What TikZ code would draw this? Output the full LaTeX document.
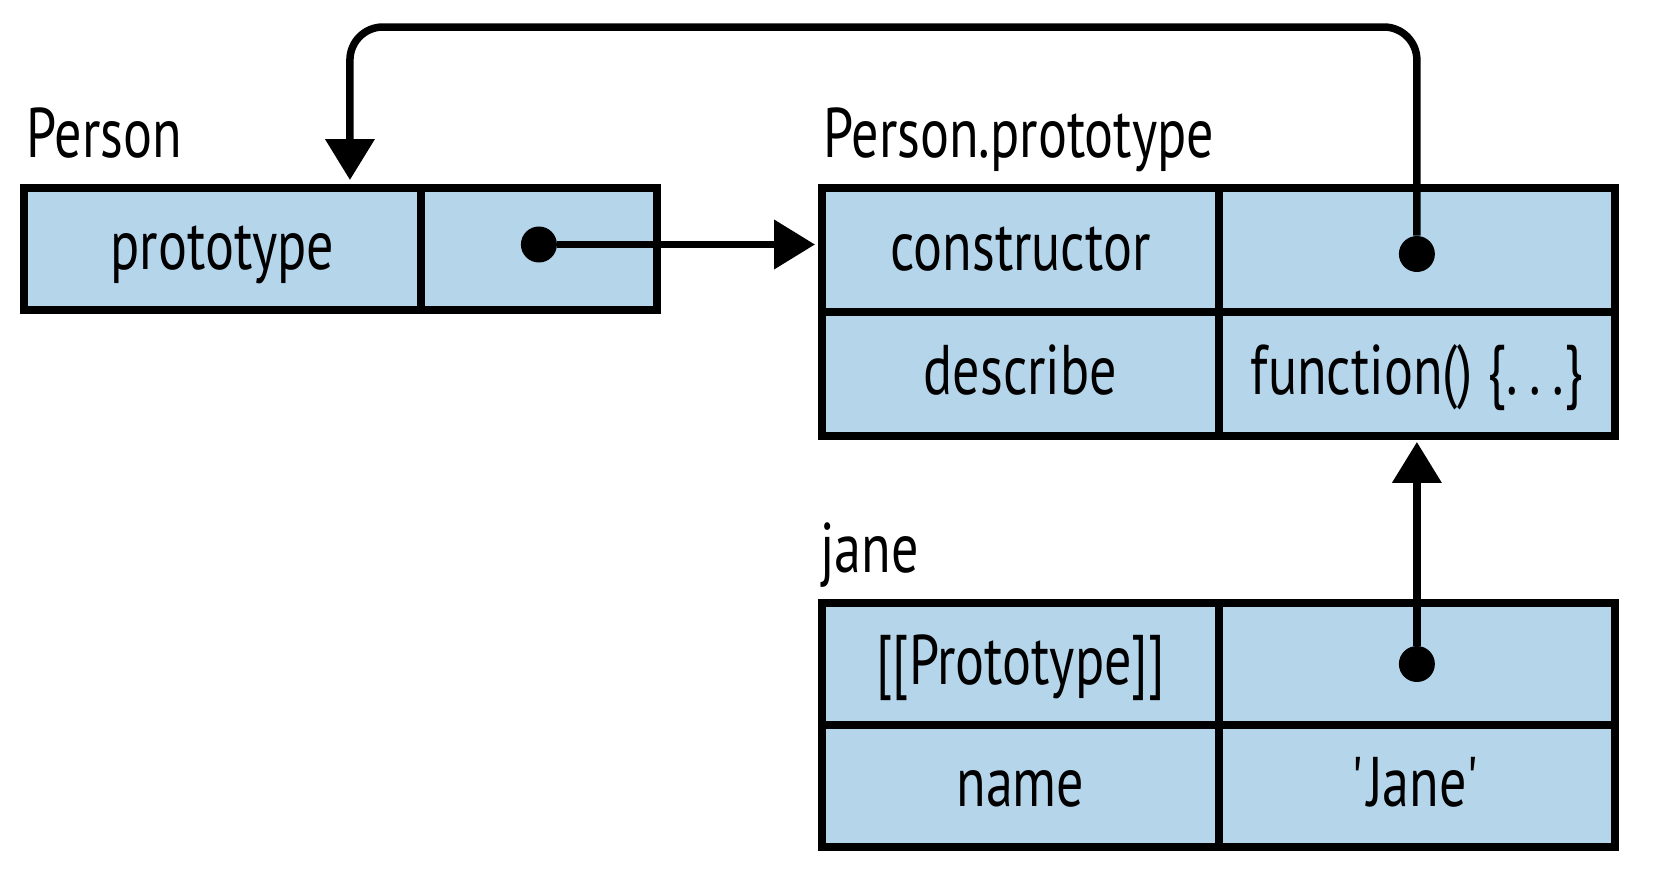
\documentclass[tikz,border=0pt]{standalone}
\usepackage{fontspec}
\setmainfont{PT Sans}[FakeStretch=0.77]
\usetikzlibrary{arrows.meta, positioning}
\definecolor{CellFill}{HTML}{B5D5EB}

\begin{document}
\begin{tikzpicture}[x=0.02cm, y=-0.02cm,
  every node/.style={font=\fontsize{40}{48}\selectfont},
  cell/.style={draw=black, fill=CellFill, line width=0.16cm,
               inner sep=0pt, outer sep=0pt, minimum height=2.44cm,
               text height=32pt, text depth=9pt},
  keycell/.style={cell, minimum width=7.94cm},
  valcell/.style={cell, minimum width=7.92cm},
  lbl/.style={anchor=base west, inner sep=0pt},
  dot/.style={circle, fill=black, minimum size=0.72cm, inner sep=0pt},
  ptr/.style={-{Triangle[length=0.82cm, width=0.96cm]}, line width=0.15cm}
]
\useasboundingbox (0,0) rectangle (1666,870);

% Person
\node[lbl] (personLbl) at (26,157) {Person};
\node[keycell, anchor=north west] (perKey) at (24,188) {prototype};
\node[valcell, minimum width=4.72cm, right=0pt of perKey] (perVal) {};

% Person.prototype
\node[lbl] (protoLbl) at (823,157) {Person.prototype};
\node[keycell, anchor=north west, minimum height=2.48cm] (ctorKey) at (822,188) {constructor};
\node[valcell, minimum height=2.48cm, right=0pt of ctorKey] (ctorVal) {};
\node[keycell, minimum height=2.48cm, below=0pt of ctorKey] (descKey) {describe};
\node[valcell, minimum height=2.48cm, right=0pt of descKey] (descVal) {function() \{.\,.\,.\}};

% jane
\node[lbl] (janeLbl) at (820,572) {jane};
\node[keycell, anchor=north west] (protoKey) at (822,603) {[[Prototype]]};
\node[valcell, right=0pt of protoKey] (protoVal) {};
\node[keycell, below=0pt of protoKey] (nameKey) {name};
\node[valcell, right=0pt of nameKey] (nameVal) {\textquotesingle Jane\textquotesingle};

% pointers
\node[dot] (perDot) at ([yshift=0.09cm]perVal.center) {};
\node[dot] (ctorDot) at ([yshift=-0.08cm]ctorVal.center) {};
\node[dot] (protoDot) at (protoVal.center) {};

\coordinate (loopTop) at (0,27);
\coordinate (perIn) at ([xshift=-1.42cm]perKey.north east);

\draw[ptr, shorten >=0.14cm] (perDot) -- (perDot -| ctorKey.west);
\draw[ptr, rounded corners=0.66cm, shorten >=0.16cm]
  (ctorDot) -- (ctorDot |- loopTop) -- (perIn |- loopTop) -- (perIn);
\draw[ptr, shorten >=0.12cm] (protoDot) -- (protoDot |- descVal.south);

\end{tikzpicture}
\end{document}
